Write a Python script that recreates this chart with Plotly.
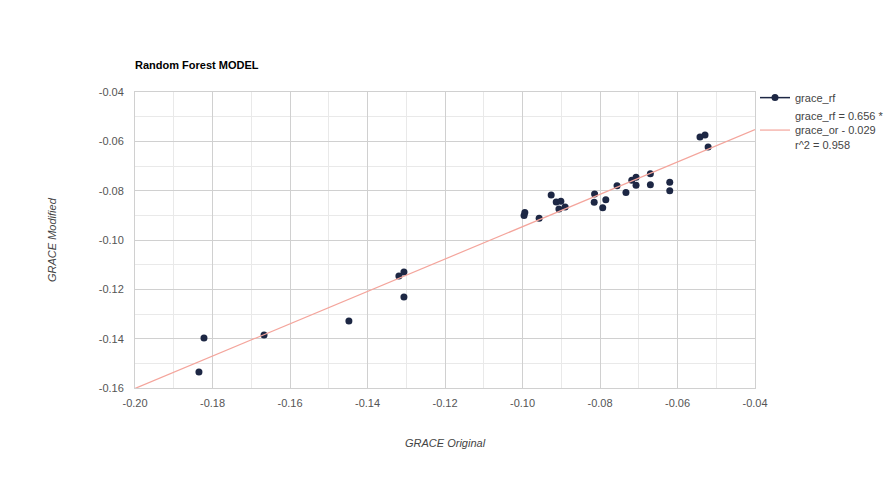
import plotly.graph_objects as go

grace_or = [-0.1835, -0.1822, -0.1667, -0.1448, -0.1319, -0.1306, -0.1306,
            -0.0996, -0.0994, -0.0957, -0.0926, -0.0913, -0.0901, -0.0906, -0.0890,
            -0.0814, -0.0815, -0.0793, -0.0785, -0.0756, -0.0733, -0.0718, -0.0707,
            -0.0707, -0.0670, -0.0670, -0.0620, -0.0620, -0.0542, -0.0529, -0.0521]
grace_rf = [-0.1535, -0.1397, -0.1385, -0.1328, -0.1146, -0.1130, -0.1231,
            -0.0901, -0.0889, -0.0912, -0.0818, -0.0846, -0.0843, -0.0874, -0.0866,
            -0.0814, -0.0847, -0.0869, -0.0837, -0.0780, -0.0807, -0.0758, -0.0746,
            -0.0778, -0.0731, -0.0776, -0.0766, -0.0800, -0.0582, -0.0574, -0.0623]

slope = 0.656
intercept = -0.029
trend_x = [-0.20, -0.04]
trend_y = [slope * v + intercept for v in trend_x]

x_ticks = [-0.20, -0.18, -0.16, -0.14, -0.12, -0.10, -0.08, -0.06, -0.04]
x_labels = ["-0.20", "-0.18", "-0.16", "-0.14", "-0.12", "-0.10", "-0.08", "-0.06", "-0.04"]
y_ticks = [-0.16, -0.14, -0.12, -0.10, -0.08, -0.06, -0.04]
y_labels = ["-0.16", "-0.14", "-0.12", "-0.10", "-0.08", "-0.06", "-0.04"]

FONT = "Liberation Sans Narrow, Liberation Sans, Arial, sans-serif"
NAVY = "#1d2744"
SALMON = "#f4a59c"

# plot area in pixels
L, R, T, B = 135, 755, 92, 388
W, H = 890, 480

def px_to_paper(px, py):
    return (px - L) / (R - L), (B - py) / (B - T)

fig = go.Figure()
fig.add_trace(go.Scatter(x=grace_or, y=grace_rf, mode="markers", showlegend=False,
                         marker=dict(color=NAVY, size=7), hoverinfo="x+y"))
fig.add_trace(go.Scatter(x=[None], y=[None], mode="lines+markers", name="grace_rf",
                         marker=dict(color=NAVY, size=7), line=dict(color=NAVY, width=1.5)))
fig.add_trace(go.Scatter(x=trend_x, y=trend_y, mode="lines",
                         name="grace_rf = 0.656 *<br>grace_or - 0.029<br>r^2 = 0.958",
                         line=dict(color=SALMON, width=1.2)))

axis_common = dict(showgrid=True, gridcolor="#d0d0d0", gridwidth=1, zeroline=False,
                   showline=True, linecolor="#d0d0d0", linewidth=1, mirror=True,
                   ticks="", tickfont=dict(family=FONT, size=11, color="#555555"),
                   minor=dict(dtick=0.01, showgrid=True, gridcolor="#e9e9e9", gridwidth=1))

xt_x, xt_y = px_to_paper(445, 443)
yt_x, yt_y = px_to_paper(52, 240)

fig.update_layout(
    width=W, height=H,
    margin=dict(l=L, r=W - R, t=T, b=H - B, autoexpand=False),
    paper_bgcolor="white", plot_bgcolor="white",
    font=dict(family=FONT, size=11, color="#444444"),
    title=dict(text="<b>Random Forest MODEL</b>", x=L / W, xanchor="left", xref="container",
               y=1 - 65 / H, yanchor="middle", yref="container",
               font=dict(family=FONT, size=11, color="#000000")),
    xaxis=dict(range=[-0.20, -0.04], tickvals=x_ticks, ticktext=x_labels,
               ticklabelstandoff=5, **axis_common),
    yaxis=dict(range=[-0.16, -0.04], tickvals=y_ticks, ticktext=y_labels,
               ticklabelstandoff=8, **axis_common),
    legend=dict(x=1.0, xanchor="left", y=1.03, yanchor="top", xref="paper", yref="paper",
                font=dict(family=FONT, size=11, color="#444444"), tracegroupgap=2,
                bgcolor="rgba(0,0,0,0)"),
    annotations=[
        dict(text="<i>GRACE Original</i>", x=xt_x, y=xt_y, xref="paper", yref="paper",
             showarrow=False, font=dict(family=FONT, size=11, color="#444444"),
             xanchor="center", yanchor="middle"),
        dict(text="<i>GRACE Modified</i>", x=yt_x, y=yt_y, xref="paper", yref="paper",
             showarrow=False, textangle=-90, font=dict(family=FONT, size=11, color="#444444"),
             xanchor="center", yanchor="middle"),
    ],
)

fig.write_html("out.html")
